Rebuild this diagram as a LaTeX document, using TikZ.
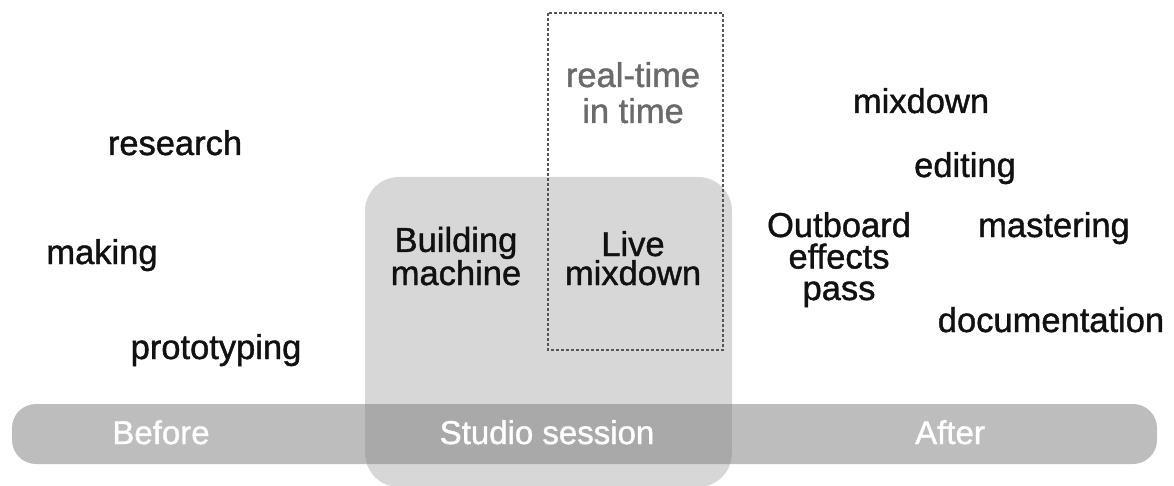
\documentclass[tikz,border=0pt]{standalone}
\usepackage{fontspec}
\setmainfont{Liberation Sans}
\newfontfamily\medsans[FakeBold=1.2]{Liberation Sans}
\definecolor{barfill}{HTML}{BDBDBD}
\definecolor{boxfill}{HTML}{D7D7D7}
\definecolor{overlapfill}{HTML}{A9A9A9}
\definecolor{ink}{HTML}{111111}
\definecolor{softink}{HTML}{6A6A6A}
\definecolor{dashink}{HTML}{555555}
\tikzset{
  word/.style={font=\medsans\fontsize{34.5}{29}\selectfont, text=ink, inner sep=0pt, align=center, anchor=base},
  phase/.style={font=\medsans\fontsize{33}{33}\selectfont, text=white, inner sep=0pt, anchor=base},
  timeline/.style={rounded corners=24pt},
  sessionbox/.style={rounded corners=34pt},
}
\begin{document}
\begin{tikzpicture}[x=1pt,y=-1pt]
\useasboundingbox (0,0) rectangle (1174,486);
% timeline bar and the studio-session block
\path[fill=barfill, timeline] (12,404) rectangle (1157,464);
\path[fill=boxfill, sessionbox] (365,177) rectangle (732,487);
\begin{scope}
  \clip[sessionbox] (365,177) rectangle (732,487);
  \path[fill=overlapfill, timeline] (12,404) rectangle (1157,464);
\end{scope}
% dashed frame around the real-time part
\draw[dashink, line width=1.2pt, dash pattern=on 3pt off 2pt] (548,13) rectangle (723,350);
% before
\node[word] (research) at (175,155) {research};
\node[word] (making) at (102,264) {making};
\node[word] (proto) at (216,359) {prototyping};
% studio (base anchor sits on the last line)
\node[word] (building) at (456,285) {Building\\machine};
\node[word] (live) at (633,285) {Live\\mixdown};
\node[word, text=softink, font=\medsans\fontsize{34.5}{36}\selectfont] (realtime) at (633,123) {real-time\\in time};
% after
\node[word] (mixdown) at (921,113) {mixdown};
\node[word] (editing) at (965,177) {editing};
\node[word, font=\medsans\fontsize{34.5}{31.5}\selectfont] (outboard) at (839,300) {Outboard\\effects\\pass};
\node[word] (mastering) at (1054,237) {mastering};
\node[word] (docs) at (1051,332) {documentation};
% phase labels
\node[phase] (before) at (161,444) {Before};
\node[phase] (studio) at (547,444) {Studio session};
\node[phase] (after) at (950,444) {After};
\end{tikzpicture}
\end{document}
